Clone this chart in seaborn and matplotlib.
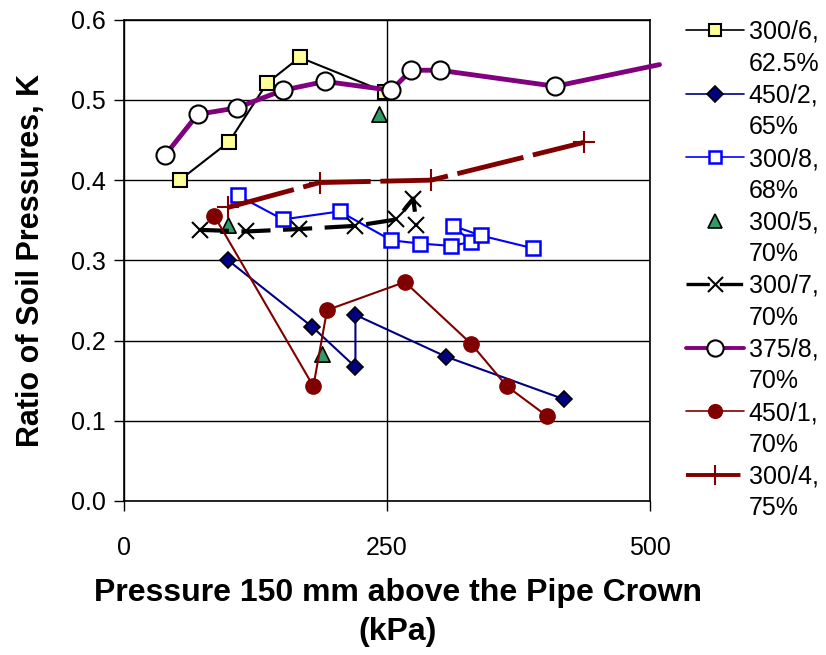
import pandas as pd
import matplotlib
matplotlib.use("Agg")
import matplotlib.pyplot as plt
from matplotlib.lines import Line2D
import seaborn as sns

# ── Data ──
p_300_6 = [53, 100, 136, 167, 248]
k_300_6 = [0.400, 0.448, 0.521, 0.553, 0.510]

p_450_2 = [99, 179, 220, 220, 306, 418]
k_450_2 = [0.300, 0.217, 0.167, 0.232, 0.180, 0.127]

p_300_8 = [108, 151, 205, 254, 281, 311, 330, 313, 339, 389]
k_300_8 = [0.381, 0.351, 0.361, 0.325, 0.321, 0.318, 0.323, 0.343, 0.331, 0.315]

p_300_5 = [99, 188, 242]
k_300_5 = [0.344, 0.183, 0.483]

p_300_7 = [72, 116, 166, 220, 259, 275, 278]
k_300_7 = [0.338, 0.336, 0.339, 0.343, 0.351, 0.377, 0.344]

p_375_8 = [39, 70, 107, 151, 191, 254, 273, 300, 410, 509]
k_375_8 = [0.431, 0.482, 0.490, 0.512, 0.523, 0.512, 0.537, 0.537, 0.517, 0.544]

p_450_1 = [86, 180, 193, 267, 330, 364, 402]
k_450_1 = [0.355, 0.143, 0.238, 0.273, 0.196, 0.143, 0.106]

p_300_4 = [99, 186, 292, 437]
k_300_4 = [0.366, 0.397, 0.400, 0.447]

labels = ["300/6,\n62.5%", "450/2,\n65%", "300/8,\n68%", "300/5,\n70%",
          "300/7,\n70%", "375/8,\n70%", "450/1,\n70%", "300/4,\n75%"]

x_ticks = [0, 250, 500]
y_ticks = [0.0, 0.1, 0.2, 0.3, 0.4, 0.5, 0.6]

sns.set_style("white")
plt.rcParams["font.family"] = ["Liberation Sans", "DejaVu Sans"]
plt.rcParams.update({"text.color": "black", "axes.labelcolor": "black",
                     "xtick.color": "black", "ytick.color": "black"})

fig = plt.figure(figsize=(8.26, 6.55), dpi=100)
ax = fig.add_axes([124 / 826, 1 - 501 / 655, 526 / 826, 481.3 / 655])

NAVY = "#000080"
BLUE = "#0000FF"
GREEN = "#339966"
PURPLE = "#800080"
DRED = "#800000"

# style per series
styles = [
    dict(color="black", lw=1.5, marker="s", ms=10, mfc="#FFFF99", mec="black", mew=1.5),
    dict(color=NAVY, lw=1.5, marker="D", ms=8.5, mfc=NAVY, mec="black", mew=1.2),
    dict(color=BLUE, lw=1.5, marker="s", ms=10, mfc="white", mec=BLUE, mew=1.8),
    dict(color=GREEN, lw=0, marker="^", ms=11, mfc=GREEN, mec="black", mew=1.2),
    dict(color="black", lw=3, ls=(0, (7, 3)), marker="x", ms=12, mfc="black", mec="black", mew=1.5),
    dict(color=PURPLE, lw=3.5, marker="o", ms=13, mfc="white", mec="black", mew=1.5),
    dict(color=DRED, lw=1.5, marker="o", ms=11, mfc=DRED, mec=DRED, mew=1),
    dict(color=DRED, lw=3.5, ls=(0, (14, 2)), marker="+", ms=16, mfc=DRED, mec=DRED, mew=1.5),
]

series = [(p_300_6, k_300_6), (p_450_2, k_450_2), (p_300_8, k_300_8),
          (p_300_5, k_300_5), (p_300_7, k_300_7), (p_375_8, k_375_8),
          (p_450_1, k_450_1), (p_300_4, k_300_4)]

for i, ((px, ky), st) in enumerate(zip(series, styles)):
    df = pd.DataFrame({"p": px, "k": ky})
    z = 3 + i
    if st["lw"] == 0:
        sns.scatterplot(data=df, x="p", y="k", ax=ax, marker=st["marker"], s=st["ms"] ** 2,
                        color=st["mfc"], edgecolor=st["mec"], linewidth=st["mew"],
                        legend=False, zorder=z)
        continue
    line_kws = dict(color=st["color"], lw=st["lw"], ls=st.get("ls", "-"))
    if labels[i].startswith("375/8"):
        # last point lies past the plot edge: line only, drawn unclipped
        sns.lineplot(data=df, x="p", y="k", sort=False, estimator=None, ax=ax,
                     legend=False, zorder=z, clip_on=False, **line_kws)
        df = df.iloc[:-1]
        line_kws["lw"] = 0
    sns.lineplot(data=df, x="p", y="k", sort=False, estimator=None, ax=ax,
                 legend=False, zorder=z, marker=st["marker"], ms=st["ms"],
                 mfc=st["mfc"], mec=st["mec"], mew=st["mew"], **line_kws)

ax.set_xlim(0, 500)
ax.set_ylim(0, 0.6)
ax.set_xticks(x_ticks)
ax.set_yticks(y_ticks)
ax.set_yticklabels([f"{v:.1f}" for v in y_ticks])
ax.grid(True, color="black", lw=1)
ax.set_axisbelow(True)
for s in ax.spines.values():
    s.set_color("black")
    s.set_linewidth(1.2)
ax.tick_params(axis="both", direction="out", length=7, width=1, color="black",
               labelsize=18, pad=6, bottom=True, left=True)
ax.tick_params(axis="x", pad=18)

ax.set_xlabel("Pressure 150 mm above the Pipe Crown\n(kPa)", fontsize=23,
              fontweight="bold", linespacing=1.4)
ax.xaxis.set_label_coords(0.521, -0.16)
ax.set_ylabel("Ratio of Soil Pressures, K", fontsize=22, fontweight="bold")
ax.yaxis.set_label_coords(-0.148, 0.5)

# legend: handle beside first line of each two-line label
handles, texts = [], []
for st, lab in zip(styles, labels):
    first, second = lab.split("\n")
    h = Line2D([], [], color=st["color"], lw=max(st["lw"] * 0.8, 1.2) if st["lw"] else 0,
               ls=st.get("ls", "-") if st["lw"] else "none", marker=st["marker"],
               ms=st["ms"] * 0.9, mfc=st["mfc"], mec=st["mec"], mew=st["mew"])
    handles += [h, Line2D([], [], ls="none")]
    texts += [first, second]
fig.legend(handles, texts, loc="upper left", bbox_to_anchor=(686 / 826, 1 - 20 / 655),
           frameon=False, fontsize=18, handlelength=2.3, handletextpad=0.2,
           labelspacing=0.31, borderpad=0, borderaxespad=0)

fig.savefig("out.png", dpi=100)
